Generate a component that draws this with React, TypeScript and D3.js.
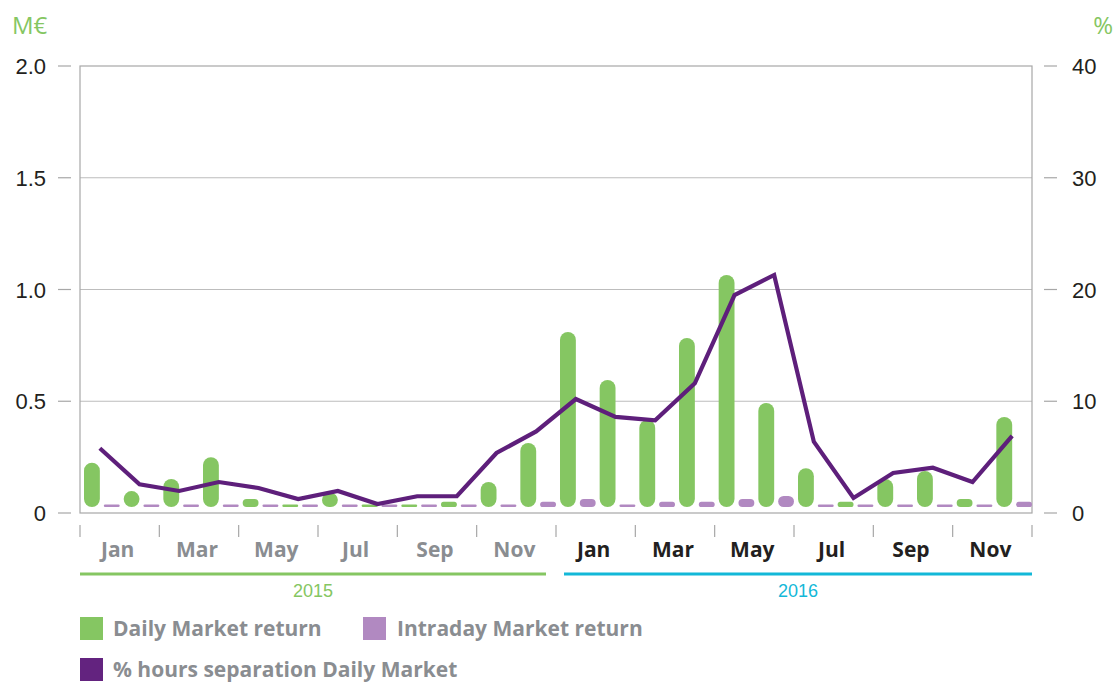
import * as d3 from "d3";

// ── Data ────────────────────────────────────────────────────────────────
const MONTHS = [
  "Jan", "Feb", "Mar", "Apr", "May", "Jun", "Jul", "Aug", "Sep", "Oct", "Nov", "Dec",
];
const YEARS = ["2015", "2016"];
const PERIODS = YEARS.flatMap((y) => MONTHS.map((m) => `${m} ${y}`));

// M€
const dailyReturn = [
  0.225, 0.098, 0.152, 0.25, 0.063, 0.038, 0.09, 0.038, 0.038, 0.05, 0.139, 0.313,
  0.81, 0.595, 0.416, 0.783, 1.065, 0.492, 0.2, 0.05, 0.152, 0.188, 0.063, 0.43,
];
const intradayReturn = [
  0.038, 0.038, 0.038, 0.038, 0.038, 0.038, 0.038, 0.038, 0.038, 0.038, 0.038, 0.05,
  0.063, 0.038, 0.05, 0.05, 0.063, 0.076, 0.038, 0.038, 0.038, 0.038, 0.038, 0.05,
];
// %
const hoursSeparation = [
  5.8, 2.57, 1.97, 2.77, 2.24, 1.25, 1.97, 0.8, 1.5, 1.5, 5.37, 7.3,
  10.2, 8.6, 8.3, 11.6, 19.5, 21.3, 6.38, 1.34, 3.58, 4.05, 2.77, 6.9,
];

const LEFT_TICKS = [0, 0.5, 1.0, 1.5, 2.0];
const RIGHT_TICKS = [0, 10, 20, 30, 40];
const TICK_MONTHS = ["Jan", "Mar", "May", "Jul", "Sep", "Nov"];

// ── Layout / style ──────────────────────────────────────────────────────
const W = 1114;
const H = 684;
const M = { top: 66, right: 82, bottom: 171, left: 80 };
const GREEN = "#85c662";
const LILAC = "#b189c1";
const PURPLE = "#5e1f7b";
const CYAN = "#13b8d8";
const GREY_TEXT = "#8a8d91";
const AXIS_GREY = "#a7a7a7";
const NUM_FONT = "'Liberation Sans', Arial, sans-serif";
const LABEL_FONT = "'Open Sans', Lato, sans-serif";

export default function App() {
  const x0 = d3.scaleBand<string>().domain(PERIODS).range([M.left, W - M.right]);
  const x1 = d3
    .scaleBand<string>()
    .domain(["daily", "intraday"])
    .range([4, x0.bandwidth()])
    .paddingInner(0.2);
  const yL = d3.scaleLinear().domain([0, 2]).range([H - M.bottom, M.top]);
  const yR = d3.scaleLinear().domain([0, 40]).range([H - M.bottom, M.top]);

  const base = yL(0) - 6;
  const barW = x1.bandwidth();

  // rounded bar sitting just above the baseline
  const bar = (v: number) => {
    const top = Math.min(yL(v), base - 2.5);
    const h = base - top;
    return { y: top, h, rx: Math.min(barW / 2, h / 2) };
  };

  const line = d3
    .line<number>()
    .x((_, i) => (x0(PERIODS[i]) ?? 0) + x0.bandwidth() / 2)
    .y((d) => yR(d));

  const x2 = d3
    .scaleBand<string>()
    .domain(YEARS.flatMap((y) => TICK_MONTHS.map((m) => `${m} ${y}`)))
    .range([M.left, W - M.right]);

  const yearScale = d3.scaleBand<string>().domain(YEARS).range([M.left, W - M.right]);

  return (
    <svg
      width={W}
      height={H}
      style={{ position: "absolute", left: 0, top: 0, background: "#fff" }}
    >
      {/* unit labels */}
      <text x={12} y={34} fill={GREEN} fontFamily={LABEL_FONT} fontSize={24} fontWeight={400}>
        M€
      </text>
      <text
        x={1113}
        y={34}
        fill={GREEN}
        fontFamily={LABEL_FONT}
        fontSize={24}
        fontWeight={400}
        textAnchor="end"
      >
        %
      </text>

      {/* gridlines */}
      {LEFT_TICKS.slice(1, -1).map((t) => (
        <line key={t} x1={M.left} x2={W - M.right} y1={yL(t)} y2={yL(t)} stroke="#bdbdbd" strokeWidth={1.2} />
      ))}

      {/* frame */}
      <rect
        x={M.left}
        y={M.top}
        width={W - M.left - M.right}
        height={H - M.top - M.bottom}
        fill="none"
        stroke={AXIS_GREY}
        strokeWidth={1.2}
      />

      {/* left axis */}
      {LEFT_TICKS.map((t) => (
        <g key={t}>
          <line x1={58} x2={71} y1={yL(t)} y2={yL(t)} stroke={AXIS_GREY} strokeWidth={1.2} />
          <text
            x={46}
            y={yL(t) + 8}
            textAnchor="end"
            fontFamily={NUM_FONT}
            fontSize={22}
            fill="#231f20"
          >
            {t === 0 ? "0" : d3.format(".1f")(t)}
          </text>
        </g>
      ))}

      {/* right axis */}
      {RIGHT_TICKS.map((t) => (
        <g key={t}>
          <line x1={1044} x2={1057} y1={yR(t)} y2={yR(t)} stroke={AXIS_GREY} strokeWidth={1.2} />
          <text x={1072} y={yR(t) + 8} fontFamily={NUM_FONT} fontSize={22} fill="#231f20">
            {t}
          </text>
        </g>
      ))}

      {/* bars */}
      {PERIODS.map((p, i) => {
        const d = bar(dailyReturn[i]);
        const n = bar(intradayReturn[i]);
        const bx = x0(p) ?? 0;
        return (
          <g key={p}>
            <rect x={bx + (x1("daily") ?? 0)} y={d.y} width={barW} height={d.h} rx={d.rx} fill={GREEN} />
            <rect x={bx + (x1("intraday") ?? 0)} y={n.y} width={barW} height={n.h} rx={n.rx} fill={LILAC} />
          </g>
        );
      })}

      {/* line */}
      <path
        d={line(hoursSeparation) ?? ""}
        fill="none"
        stroke={PURPLE}
        strokeWidth={4.2}
        strokeLinejoin="miter"
      />

      {/* x ticks */}
      {[...x2.domain().map((k) => x2(k) ?? 0), W - M.right].map((x, i) => (
        <line key={i} x1={x} x2={x} y1={525} y2={537} stroke={AXIS_GREY} strokeWidth={1.2} />
      ))}
      {x2.domain().map((k) => (
        <text
          key={k}
          x={(x2(k) ?? 0) + x2.bandwidth() / 2 - 2}
          y={557}
          textAnchor="middle"
          fontFamily={LABEL_FONT}
          fontWeight={700}
          fontSize={21}
          fill={k.endsWith("2015") ? GREY_TEXT : "#231f20"}
        >
          {k.split(" ")[0]}
        </text>
      ))}

      {/* year bands */}
      {YEARS.map((y, i) => {
        const x = yearScale(y) ?? 0;
        const bw = yearScale.bandwidth();
        const col = i === 0 ? GREEN : CYAN;
        const xa = i === 0 ? x : x + 8;
        const xb = i === 0 ? x + bw - 10 : x + bw;
        return (
          <g key={y}>
            <line x1={xa} x2={xb} y1={574} y2={574} stroke={col} strokeWidth={3} />
            <text
              x={(xa + xb) / 2}
              y={597}
              textAnchor="middle"
              fontFamily={NUM_FONT}
              fontSize={18}
              fill={col}
            >
              {y}
            </text>
          </g>
        );
      })}

      {/* legend */}
      <rect x={80} y={617} width={23} height={23} fill={GREEN} />
      <text x={113} y={636} fontFamily={LABEL_FONT} fontWeight={700} fontSize={21} fill={GREY_TEXT}>
        Daily Market return
      </text>
      <rect x={363} y={617} width={23} height={23} fill={LILAC} />
      <text x={397} y={636} fontFamily={LABEL_FONT} fontWeight={700} fontSize={21} fill={GREY_TEXT}>
        Intraday Market return
      </text>
      <rect x={80} y={658} width={23} height={23} fill="#63237f" />
      <text x={113} y={677} fontFamily={LABEL_FONT} fontWeight={700} fontSize={21} fill={GREY_TEXT}>
        % hours separation Daily Market
      </text>
    </svg>
  );
}
